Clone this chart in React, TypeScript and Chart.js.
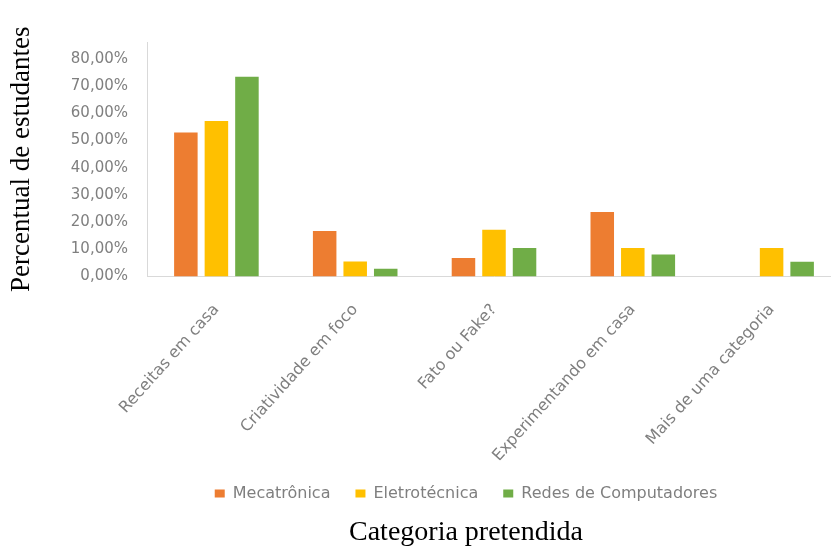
import React, { useEffect, useRef } from "react";
import { Chart, registerables } from "chart.js";

Chart.register(...registerables);

const categories = [
  "Receitas em casa",
  "Criatividade em foco",
  "Fato ou Fake?",
  "Experimentando em casa",
  "Mais de uma categoria",
];
const seriesNames = ["Mecatrônica", "Eletrotécnica", "Redes de Computadores"];
const mecatronica = [53.0, 16.7, 6.8, 23.7, 0];
const eletrotecnica = [57.2, 5.5, 17.2, 10.5, 10.5];
const redes = [73.5, 2.8, 10.5, 8.1, 5.4];
const seriesColors = ["#ED7D31", "#FFC000", "#70AD47"];
const yTickValues = [0, 10, 20, 30, 40, 50, 60, 70, 80];
const yTitle = "Percentual de estudantes";
const xTitle = "Categoria pretendida";

const fmtPct = (v: number) => v.toFixed(2).replace(".", ",") + "%";

export default function App() {
  const ref = useRef<HTMLCanvasElement | null>(null);
  useEffect(() => {
    if (!ref.current) return;
    const values = [mecatronica, eletrotecnica, redes];
    const chart = new Chart(ref.current, {
      type: "bar",
      data: {
        labels: categories,
        datasets: seriesNames.map((name, i) => ({
          label: name,
          data: values[i],
          backgroundColor: seriesColors[i],
          borderWidth: 0,
          categoryPercentage: 0.66,
          barPercentage: 0.77,
          yAxisID: "y",
        })),
      },
      options: {
        responsive: false,
        animation: false,
        devicePixelRatio: 1,
        layout: { padding: { top: 42, left: 0, right: 0, bottom: 0 } },
        scales: {
          x: {
            grid: { display: false, drawTicks: false },
            border: { display: true, color: "#d9d9d9", width: 1 },
            ticks: {
              autoSkip: false,
              minRotation: 48,
              maxRotation: 48,
              padding: 24,
              color: "#7f7f7f",
              font: { family: "DejaVu Sans", size: 16 },
            },
            afterFit: (scale: any) => {
              scale.height = 184;
            },
          },
          y: {
            min: 0,
            max: 86.3,
            grid: { display: false, drawTicks: false },
            border: { display: true, color: "#d9d9d9", width: 1 },
            afterBuildTicks: (scale: any) => {
              scale.ticks = yTickValues.map((v) => ({ value: v }));
            },
            afterFit: (scale: any) => {
              scale.width = 147;
            },
            ticks: {
              padding: 19,
              color: "#7f7f7f",
              font: { family: "DejaVu Sans", size: 15 },
              callback: (v: any) => fmtPct(Number(v)),
            },
            title: {
              display: true,
              text: yTitle,
              color: "#000000",
              font: { family: "Liberation Serif", size: 27, weight: "normal" },
              padding: { top: 6, bottom: 0 },
            },
          },
          spacer: {
            type: "linear",
            position: "right",
            display: true,
            grid: { display: false, drawTicks: false },
            border: { display: false },
            ticks: { display: false },
            afterFit: (scale: any) => {
              scale.width = 91;
            },
          },
        },
        plugins: {
          legend: {
            position: "bottom",
            labels: {
              boxWidth: 10,
              boxHeight: 8,
              padding: 25,
              color: "#7f7f7f",
              font: { family: "DejaVu Sans", size: 16 },
            },
          },
          title: {
            display: true,
            position: "bottom",
            text: xTitle,
            color: "#000000",
            font: { family: "Liberation Serif", size: 28, weight: "normal" },
            padding: { top: 4, bottom: 1 },
          },
          tooltip: { enabled: false },
        },
      },
    });
    return () => chart.destroy();
  }, []);
  return (
    <div
      style={{
        position: "fixed",
        left: 0,
        top: 0,
        width: 831,
        height: 550,
        overflow: "hidden",
        background: "#ffffff",
      }}
    >
      <canvas ref={ref} width={932} height={550} style={{ display: "block" }} />
    </div>
  );
}
